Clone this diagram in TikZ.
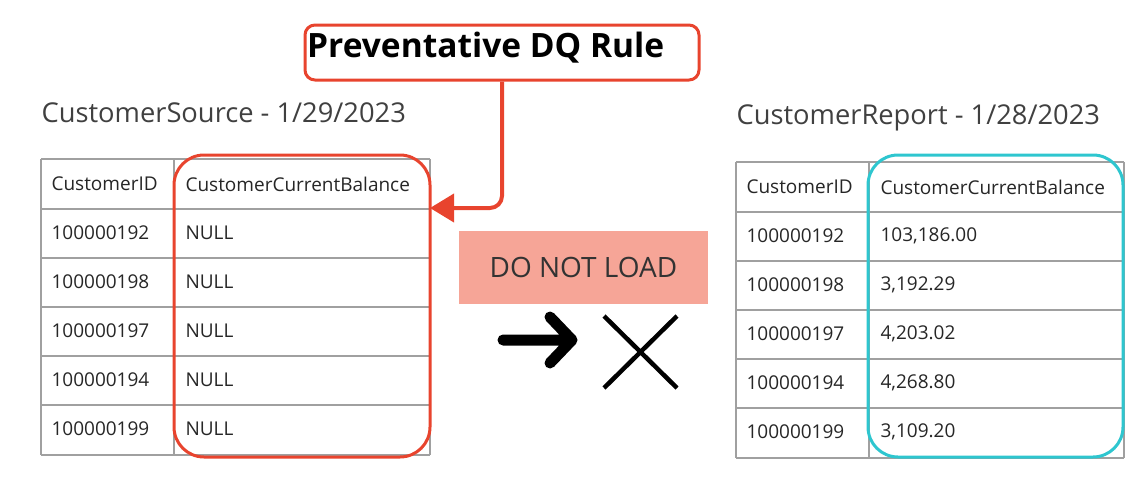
\documentclass[tikz,border=0pt]{standalone}
\usepackage{fontspec}
\setmainfont{Open Sans}
\usetikzlibrary{arrows.meta}
\definecolor{rd}{HTML}{E8442E}
\definecolor{cy}{HTML}{2EC6CF}
\definecolor{sal}{HTML}{F6A597}
\definecolor{gr}{HTML}{A0A0A0}
\begin{document}
\begin{tikzpicture}[x=1pt,y=-1pt,
  cell/.style={anchor=west,font=\fontsize{19}{22}\selectfont,text=black!85},
  ttl/.style={anchor=west,font=\fontsize{27.3}{30}\selectfont,text=black!75}]
\useasboundingbox (0,0) rectangle (1146,490);
% left table
\node[ttl] (lt) at (38,113) {CustomerSource - 1/29/2023};
\foreach \y in {159,209,258,307,356,405,455} \draw[gr,line width=1.2] (41,\y) -- (430,\y);
\draw[gr,line width=1.2] (41,159) -- (41,455) (174,159) -- (174,455) (430,159) -- (430,455);
\node[cell] (l0a) at (48,184) {CustomerID};
\node[cell] (l0b) at (182,184) {CustomerCurrentBalance};
\foreach \i/\id in {1/100000192,2/100000198,3/100000197,4/100000194,5/100000199}{
  \node[cell] (la\i) at (48,184+49*\i) {\id};
  \node[cell] (lb\i) at (182,184+49*\i) {NULL};}
% right table
\node[ttl] (rt) at (733,118) {CustomerReport - 1/28/2023};
\foreach \y in {162,212,261,310,359,408,458} \draw[gr,line width=1.2] (736,\y) -- (1124,\y);
\draw[gr,line width=1.2] (736,162) -- (736,458) (869,162) -- (869,458) (1124,162) -- (1124,458);
\node[cell] (r0a) at (743,187) {CustomerID};
\node[cell] (r0b) at (877,187) {CustomerCurrentBalance};
\foreach \i/\id/\v in {1/100000192/{103,186.00},2/100000198/{3,192.29},3/100000197/{4,203.02},4/100000194/{4,268.80},5/100000199/{3,109.20}}{
  \node[cell] (ra\i) at (743,187+49*\i) {\id};
  \node[cell] (rb\i) at (877,187+49*\i) {\v};}
% highlight boxes
\draw[rd,line width=3,rounded corners=30] (174,155) rectangle (430,457);
\node[draw=cy,line width=3,rounded corners=30,minimum width=255,minimum height=302,inner sep=0] (cb) at (995.5,306) {};
\node[draw=rd,line width=3,rounded corners=10,minimum width=394,minimum height=55,inner sep=0] (rule) at (502,52.5) {};
\node[anchor=west,inner sep=0,font=\bfseries\fontsize{33.5}{36}\selectfont] (rt2) at (307,48) {Preventative DQ Rule};
\coordinate (tgt) at (430,208);
\draw[rd,line width=4,rounded corners=12,-{Triangle[length=24,width=28]}] (rule.south) -- (502,208) -- (tgt);
% do not load
\node[fill=sal,minimum width=249,minimum height=73,inner sep=0,font=\fontsize{28}{30}\selectfont,text=black!80] (dnl) at (583.5,267.5) {DO NOT LOAD};
\coordinate (a1) at (503,340); \coordinate (a2) at (572,340);
\coordinate (h1) at (550,317); \coordinate (h2) at (550,363);
\draw[line width=11,line cap=round,line join=round] (a1) -- (a2) (h1) -- (a2) -- (h2);
\coordinate (x1) at (604,316); \coordinate (x2) at (677,388);
\coordinate (x3) at (677,316); \coordinate (x4) at (604,388);
\draw[line width=4.5] (x1) -- (x2) (x3) -- (x4);
\end{tikzpicture}
\end{document}
